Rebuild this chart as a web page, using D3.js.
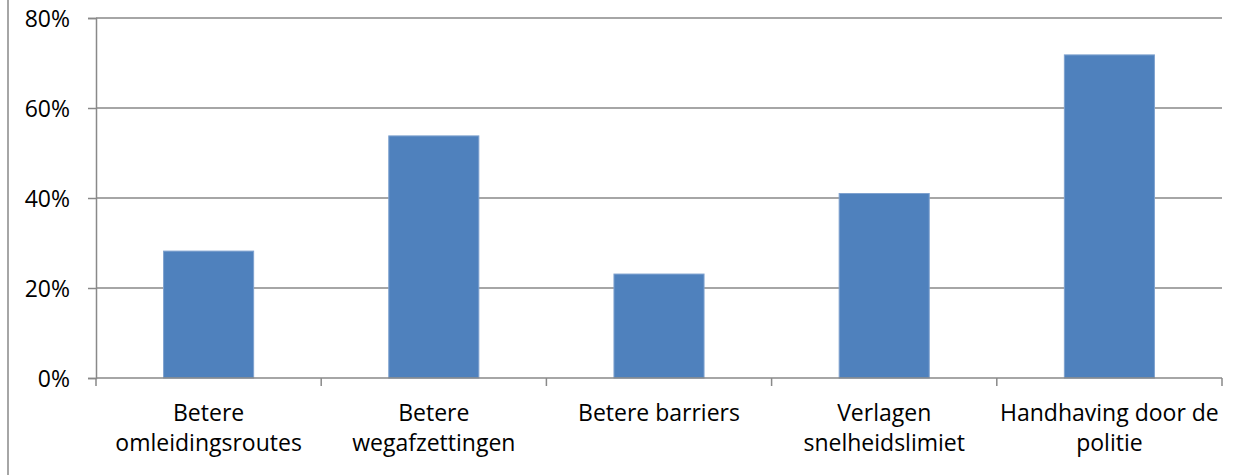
<!DOCTYPE html>
<html><head><meta charset="utf-8">
<script src="https://cdn.jsdelivr.net/npm/d3@7"></script>
<style>
html,body{margin:0;padding:0;background:#fff;}
svg{display:block;}
text{font-family:"Open Sans",sans-serif;font-size:23px;fill:#000;}
</style></head>
<body>
<svg id="chart" width="1239" height="475"></svg>
<script>
const categories = [
  ["Betere", "omleidingsroutes"],
  ["Betere", "wegafzettingen"],
  ["Betere barriers"],
  ["Verlagen", "snelheidslimiet"],
  ["Handhaving door de", "politie"]
];
const values = [0.282, 0.538, 0.231, 0.410, 0.718];
const yTicks = [0, 0.2, 0.4, 0.6, 0.8];

(function () {
const svg = d3.select("#chart");
const mLeft = 96, mRight = 1222, mTop = 18, mBottom = 378;
const grid = "#898989";

// outer border (left edge)
svg.append("line").attr("x1", 8).attr("x2", 8).attr("y1", 0).attr("y2", 475)
  .attr("stroke", grid).attr("stroke-width", 1.5);

const x = d3.scaleBand().domain(d3.range(categories.length)).range([mLeft, mRight])
  .paddingInner(0.6).paddingOuter(0.3);
const y = d3.scaleLinear().domain([0, 0.8]).range([mBottom, mTop]);

// gridlines
svg.append("g").selectAll("line").data(yTicks.filter(d => d > 0)).join("line")
  .attr("x1", mLeft).attr("x2", mRight)
  .attr("y1", d => y(d)).attr("y2", d => y(d))
  .attr("stroke", grid).attr("stroke-width", 1.5);

// y axis
const yAxis = d3.axisLeft(y).tickValues(yTicks).tickFormat(d3.format(".0%"))
  .tickSize(8).tickPadding(18);
const gy = svg.append("g").attr("transform", `translate(${mLeft},0)`).call(yAxis);
gy.select(".domain").attr("stroke", grid).attr("stroke-width", 1.5);
gy.selectAll(".tick line").attr("stroke", grid).attr("stroke-width", 1.5);
gy.selectAll(".tick text").attr("font-family", "Open Sans").attr("font-size", 23)
  .attr("fill", "#000").attr("dy", "0.36em");

// bars
svg.append("g").selectAll("rect").data(values).join("rect")
  .attr("x", (d, i) => x(i)).attr("width", x.bandwidth())
  .attr("y", d => y(d)).attr("height", d => mBottom - y(d))
  .attr("fill", "#4F81BD").attr("stroke", "#7FA2CF").attr("stroke-width", 1);

// x axis line and boundary ticks
const step = (mRight - mLeft) / categories.length;
const bounds = d3.range(categories.length + 1).map(i => mLeft + i * step);
svg.append("line").attr("x1", mLeft).attr("x2", mRight).attr("y1", mBottom).attr("y2", mBottom)
  .attr("stroke", grid).attr("stroke-width", 1.5);
svg.append("g").selectAll("line").data(bounds).join("line")
  .attr("x1", d => d).attr("x2", d => d).attr("y1", mBottom).attr("y2", mBottom + 8)
  .attr("stroke", grid).attr("stroke-width", 1.5);

// category labels
const lab = svg.append("g").selectAll("text").data(categories).join("text")
  .attr("text-anchor", "middle")
  .attr("transform", (d, i) => `translate(${x(i) + x.bandwidth() / 2},0)`);
lab.selectAll("tspan").data(d => d).join("tspan")
  .attr("x", 0).attr("y", (d, j) => 421 + j * 30).text(d => d);
})();
</script>
</body></html>
